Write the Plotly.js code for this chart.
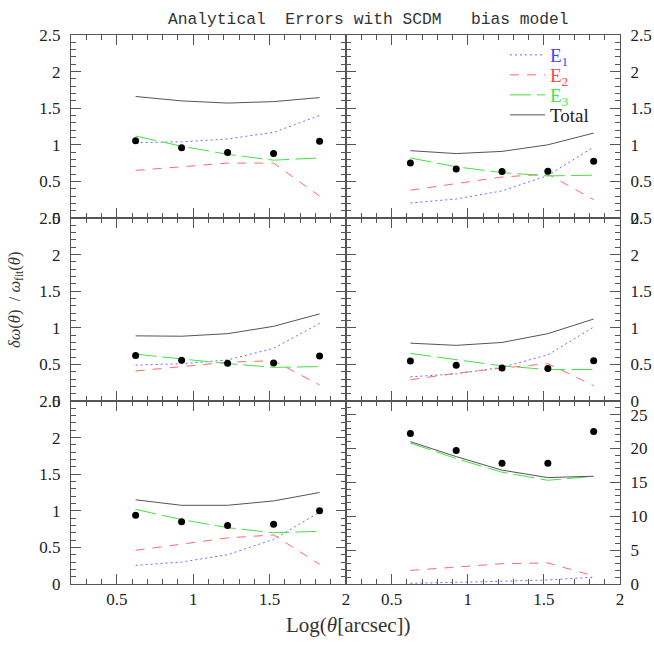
<!DOCTYPE html>
<html>
<head>
<meta charset="utf-8">
<script src="https://cdn.plot.ly/plotly-3.0.1.min.js"></script>
<style>html,body{margin:0;padding:0;background:#fff;}#chart{width:654px;height:654px;}</style>
</head>
<body>
<div id="chart"></div>
<script>
// log10 of theta [arcsec]
const logTheta = [0.623, 0.924, 1.225, 1.526, 1.827];

// Panel 1 (top-left)
const p1_E1 = [1.03, 1.04, 1.08, 1.17, 1.40];
const p1_E2 = [0.65, 0.70, 0.75, 0.75, 0.30];
const p1_E3 = [1.12, 0.98, 0.87, 0.79, 0.82];
const p1_Tot = [1.66, 1.60, 1.57, 1.59, 1.645];
const p1_Obs = [1.055, 0.96, 0.895, 0.88, 1.05];

// Panel 2 (top-right)
const p2_E1 = [0.205, 0.26, 0.37, 0.58, 0.97];
const p2_E2 = [0.38, 0.47, 0.56, 0.60, 0.25];
const p2_E3 = [0.82, 0.70, 0.62, 0.575, 0.585];
const p2_Tot = [0.92, 0.88, 0.91, 1.00, 1.16];
const p2_Obs = [0.75, 0.67, 0.635, 0.64, 0.775];

// Panel 3 (middle-left)
const p3_E1 = [0.49, 0.51, 0.56, 0.72, 1.06];
const p3_E2 = [0.41, 0.47, 0.53, 0.55, 0.22];
const p3_E3 = [0.64, 0.57, 0.51, 0.46, 0.47];
const p3_Tot = [0.89, 0.885, 0.92, 1.02, 1.19];
const p3_Obs = [0.62, 0.555, 0.515, 0.52, 0.615];

// Panel 4 (middle-right)
const p4_E1 = [0.33, 0.37, 0.46, 0.63, 1.01];
const p4_E2 = [0.29, 0.38, 0.45, 0.51, 0.21];
const p4_E3 = [0.65, 0.56, 0.48, 0.43, 0.43];
const p4_Tot = [0.79, 0.76, 0.80, 0.92, 1.12];
const p4_Obs = [0.545, 0.49, 0.45, 0.445, 0.55];

// Panel 5 (bottom-left)
const p5_E1 = [0.255, 0.30, 0.40, 0.61, 0.98];
const p5_E2 = [0.46, 0.55, 0.63, 0.67, 0.27];
const p5_E3 = [1.02, 0.88, 0.77, 0.70, 0.72];
const p5_Tot = [1.15, 1.075, 1.075, 1.135, 1.25];
const p5_Obs = [0.94, 0.85, 0.80, 0.815, 1.00];

// Panel 6 (bottom-right)
const p6_E1 = [0.1, 0.2, 0.4, 0.6, 1.0];
const p6_E2 = [2.0, 2.5, 3.0, 3.1, 1.2];
const p6_E3 = [20.8, 18.5, 16.5, 15.3, 15.9];
const p6_Tot = [21.0, 18.8, 16.8, 15.7, 15.9];
const p6_Obs = [22.2, 19.7, 17.8, 17.8, 22.5];

const seriesNames = ['<span style="color:#4646ff">E<sub>1</sub></span>',
                     '<span style="color:#ff4646">E<sub>2</sub></span>',
                     '<span style="color:#3ce83c">E<sub>3</sub></span>',
                     'Total'];

const panels = [
  {E1:p1_E1,E2:p1_E2,E3:p1_E3,Tot:p1_Tot,Obs:p1_Obs},
  {E1:p2_E1,E2:p2_E2,E3:p2_E3,Tot:p2_Tot,Obs:p2_Obs},
  {E1:p3_E1,E2:p3_E2,E3:p3_E3,Tot:p3_Tot,Obs:p3_Obs},
  {E1:p4_E1,E2:p4_E2,E3:p4_E3,Tot:p4_Tot,Obs:p4_Obs},
  {E1:p5_E1,E2:p5_E2,E3:p5_E3,Tot:p5_Tot,Obs:p5_Obs},
  {E1:p6_E1,E2:p6_E2,E3:p6_E3,Tot:p6_Tot,Obs:p6_Obs}
];

const styles = [
  {key:'E1', color:'#6a6aff', dash:'2px,3px', legend:'legend'},
  {key:'E2', color:'#ff6a6a', dash:'9px,8px', legend:'legend2'},
  {key:'E3', color:'#44e044', dash:'21px,6px', legend:'legend3'},
  {key:'Tot', color:'#555555', dash:'solid', legend:'legend4'}
];

const traces = [];
panels.forEach((p, i) => {
  const n = i + 1;
  const xa = n === 1 ? 'x' : 'x' + n;
  const ya = n === 1 ? 'y' : 'y' + n;
  styles.forEach((s, k) => {
    traces.push({
      x: logTheta, y: p[s.key], xaxis: xa, yaxis: ya,
      type: 'scatter', mode: 'lines',
      line: {color: s.color, width: 1, dash: s.dash},
      name: seriesNames[k],
      legend: s.legend,
      showlegend: n === 2,
      hoverinfo: 'skip'
    });
  });
  traces.push({
    x: logTheta, y: p.Obs, xaxis: xa, yaxis: ya,
    type: 'scatter', mode: 'markers',
    marker: {color: '#000', size: 7},
    showlegend: false, hoverinfo: 'skip'
  });
});

const W = 654, H = 654;
const xl = [71 / W, 346 / W], xr = [346 / W, 620 / W];
const rowsPx = [[35, 218], [218, 401], [401, 584]];
const yd = rowsPx.map(r => [1 - r[1] / H, 1 - r[0] / H]);

const tickFont = {family: '"Liberation Serif", serif', size: 17, color: '#222'};
const lineCol = '#555';

function xaxis(dom, anchor, labels) {
  return {
    domain: dom, anchor: anchor, range: [0.2, 2.0], tick0: 0, dtick: 0.5,
    ticks: 'inside', ticklen: 10, tickcolor: lineCol, tickwidth: 1,
    minor: {dtick: 0.1, ticks: 'inside', ticklen: 5, tickcolor: lineCol},
    showline: true, linecolor: lineCol, linewidth: 1, mirror: 'allticks',
    showgrid: false, zeroline: false, showticklabels: labels,
    tickfont: tickFont, ticklabelstandoff: 0, fixedrange: true
  };
}
function yaxis(dom, anchor, side, big) {
  return {
    domain: dom, anchor: anchor, range: big ? [0, 27] : [0, 2.5], tick0: 0, dtick: big ? 5 : 0.5,
    side: side,
    ticks: 'inside', ticklen: 10, tickcolor: lineCol, tickwidth: 1,
    minor: {dtick: big ? 1 : 0.1, ticks: 'inside', ticklen: 5, tickcolor: lineCol},
    showline: true, linecolor: lineCol, linewidth: 1, mirror: 'allticks',
    showgrid: false, zeroline: false, showticklabels: true,
    tickfont: tickFont, ticklabelstandoff: 6, fixedrange: true
  };
}

const legFont = {family: '"Liberation Serif", serif', size: 19, color: '#222'};
function leg(yPx) {
  return {
    x: 505 / W, y: 1 - yPx / H, xanchor: 'left', yanchor: 'middle',
    bgcolor: 'rgba(0,0,0,0)', borderwidth: 0, font: legFont, itemwidth: 35
  };
}

const layout = {
  width: W, height: H,
  margin: {l: 0, r: 0, t: 0, b: 0, pad: 0},
  paper_bgcolor: '#fff', plot_bgcolor: 'rgba(0,0,0,0)',
  showlegend: true,
  legend: leg(55), legend2: leg(75), legend3: leg(95), legend4: leg(115),
  xaxis: xaxis(xl, 'y', false), yaxis: yaxis(yd[0], 'x', 'left', false),
  xaxis2: xaxis(xr, 'y2', false), yaxis2: yaxis(yd[0], 'x2', 'right', false),
  xaxis3: xaxis(xl, 'y3', false), yaxis3: yaxis(yd[1], 'x3', 'left', false),
  xaxis4: xaxis(xr, 'y4', false), yaxis4: yaxis(yd[1], 'x4', 'right', false),
  xaxis5: xaxis(xl, 'y5', true), yaxis5: yaxis(yd[2], 'x5', 'left', false),
  xaxis6: xaxis(xr, 'y6', true), yaxis6: yaxis(yd[2], 'x6', 'right', true),
  annotations: [
    {text: 'Analytical  Errors with SCDM   bias model', xref: 'paper', yref: 'paper',
     x: 166 / W, y: 1 - 19 / H, xanchor: 'left', yanchor: 'middle', showarrow: false,
     font: {family: '"Liberation Mono", monospace', size: 16.3, color: '#333'}},
    {text: 'Log(<i>θ</i>[arcsec])', xref: 'paper', yref: 'paper',
     x: 348 / W, y: 1 - 625 / H, xanchor: 'center', yanchor: 'middle', showarrow: false,
     font: {family: '"Liberation Serif", serif', size: 21, color: '#333'}},
    {text: '<i>δω</i>(<i>θ</i>)  / <i>ω</i><sub>fit</sub>(<i>θ</i>)', xref: 'paper', yref: 'paper',
     x: 15 / W, y: 1 - 300 / H, xanchor: 'center', yanchor: 'middle', showarrow: false,
     textangle: -90,
     font: {family: '"Liberation Serif", serif', size: 16.5, color: '#333'}}
  ]
};

Plotly.newPlot('chart', traces, layout, {staticPlot: true, displayModeBar: false});
</script>
</body>
</html>
